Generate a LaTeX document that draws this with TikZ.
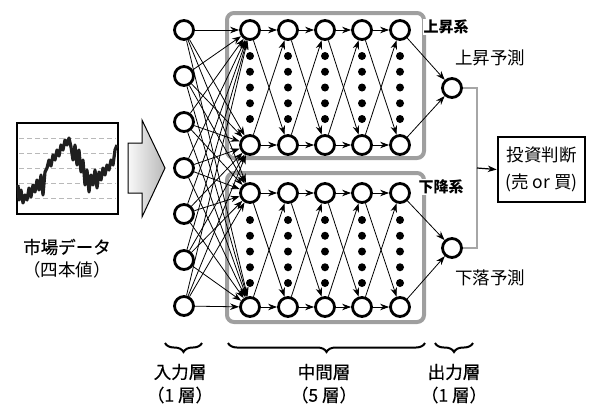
\documentclass[tikz,border=0pt]{standalone}
\usepackage{fontspec}
\setmainfont{Noto Sans CJK JP}
\newfontfamily\jpgoth{Noto Sans CJK JP}[FakeBold=0.35]
\usetikzlibrary{arrows.meta,decorations.pathreplacing}
\tikzset{
  neuron/.style={circle, draw, line width=2.8pt, minimum size=19pt, inner sep=0pt, fill=white},
  conn/.style={-{Stealth[length=9pt,width=6.5pt]}, line width=0.8pt},
  dotn/.style={circle, fill=black, inner sep=0pt, minimum size=8pt},
  grpbox/.style={draw=gray!75, line width=4pt, rounded corners=7pt},
  biglbl/.style={font=\fontsize{17.5}{26}\selectfont, inner sep=0pt},
  gothlbl/.style={font=\jpgoth\fontsize{17.5}{26}\selectfont, inner sep=0pt},
  grplbl/.style={font=\fontsize{15}{17}\selectfont\bfseries, fill=white, inner sep=1pt},
  brc/.style={decorate, decoration={brace, mirror, amplitude=9pt}, line width=2pt},
}
\begin{document}
\begin{tikzpicture}[x=1pt,y=-1pt]
\useasboundingbox (0,0) rectangle (593,405);

% chart
\draw[line width=1.8pt] (17,123) rectangle (118,214);
\foreach \yy in {138,153,168,183,198}
  \draw[gray!55, dash pattern=on 5pt off 3pt, line width=1pt] (19,\yy) -- (116,\yy);
\draw[black!88, line width=3.2pt, line join=round] (18,185) -- (19,200) -- (21,190) -- (23,203) -- (25,195) -- (27,200) -- (29,188) -- (31,197) -- (33,185) -- (35,192) -- (37,180) -- (39,190) -- (41,175) -- (43,195) -- (45,172) -- (47,168) -- (49,160) -- (51,166) -- (53,155) -- (55,160) -- (57,150) -- (59,156) -- (61,145) -- (63,150) -- (65,140) -- (67,145) -- (69,138) -- (71,147) -- (73,160) -- (75,145) -- (77,165) -- (79,150) -- (81,172) -- (83,160) -- (85,185) -- (87,170) -- (89,192) -- (91,175) -- (93,185) -- (95,170) -- (97,188) -- (99,172) -- (101,180) -- (103,168) -- (105,175) -- (107,165) -- (109,170) -- (111,160) -- (113,165) -- (115,150) -- (117,145);
\node[gothlbl] (mkt) at (67,247) {市場データ};
\node[biglbl] (mkt2) at (67,270) {（四本値）};

% big arrow
\shade[left color=gray!5, right color=gray!55, draw=black, line width=1pt]
  (128,143) -- (142,143) -- (142,120) -- (165,168) -- (142,217) -- (142,193) -- (128,193) -- cycle;

% group boxes
\draw[grpbox] (227,13) rectangle (424,158);
\draw[grpbox] (227,173) rectangle (424,322);

% input nodes
\foreach \ii in {1,...,7}
  \node[neuron] (in\ii) at (184,{30+46*(\ii-1)}) {};

% hidden nodes and dots
\foreach \cc/\xx in {1/250,2/288,3/325,4/362,5/400} {
  \node[neuron] (uT\cc) at (\xx,30) {};
  \node[neuron] (uB\cc) at (\xx,145) {};
  \node[neuron] (lT\cc) at (\xx,193) {};
  \node[neuron] (lB\cc) at (\xx,307) {};
  \foreach \kk in {0,...,4} {
    \node[dotn] (ud\cc-\kk) at (\xx,{56+15.75*\kk}) {};
    \node[dotn] (ld\cc-\kk) at (\xx,{220+15.75*\kk}) {};
  }
}

% output nodes
\node[neuron] (outU) at (452,88) {};
\node[neuron] (outD) at (452,248) {};

% input connections
\foreach \ii in {1,...,7} {
  \foreach \tt in {uT1,uB1,lT1,lB1} {
    \draw[conn] (in\ii) -- (\tt);
  }
}

% hidden connections
\foreach \grp in {u,l} {
  \foreach \cc/\nn in {1/2,2/3,3/4,4/5} {
    \draw[conn] (\grp T\cc) -- (\grp T\nn);
    \draw[conn] (\grp B\cc) -- (\grp B\nn);
    \draw[conn] (\grp T\cc) -- (\grp B\nn);
    \draw[conn] (\grp B\cc) -- (\grp T\nn);
  }
}

% to outputs
\draw[conn] (uT5) -- (outU);
\draw[conn] (uB5) -- (outU);
\draw[conn] (lT5) -- (outD);
\draw[conn] (lB5) -- (outD);

% group labels
\node[grplbl] (lblU) at (446,27) {上昇系};
\node[grplbl] (lblD) at (441,187) {下降系};

\node[biglbl] (pU) at (490,58) {上昇予測};
\node[biglbl] (pD) at (490,278) {下落予測};

% decision
\node[draw, line width=2.6pt, minimum width=87pt, minimum height=65pt, align=center,
      font=\fontsize{17.5}{27}\selectfont, inner sep=0pt] (dec) at (541.5,169.5) {投資判断\\(売 or 買)};
\coordinate (j) at (477,168);
\draw[gray!70, line width=1.6pt] (outU.east) -| (j) |- (outD.east);
\draw[conn, line width=1.2pt] (j) -- (dec.west);

% braces
\draw[brc] (165,343) -- (202,343);
\draw[brc] (228,343) -- (425,343);
\draw[brc] (435,343) -- (473,343);
\node[gothlbl] (tIn) at (180,372) {入力層};
\node[gothlbl] (tIn2) at (180,395) {（1 層）};
\node[gothlbl] (tMid) at (324,372) {中間層};
\node[gothlbl] (tMid2) at (324,395) {（5 層）};
\node[gothlbl] (tOut) at (454,372) {出力層};
\node[gothlbl] (tOut2) at (454,395) {（1 層）};
\end{tikzpicture}
\end{document}
